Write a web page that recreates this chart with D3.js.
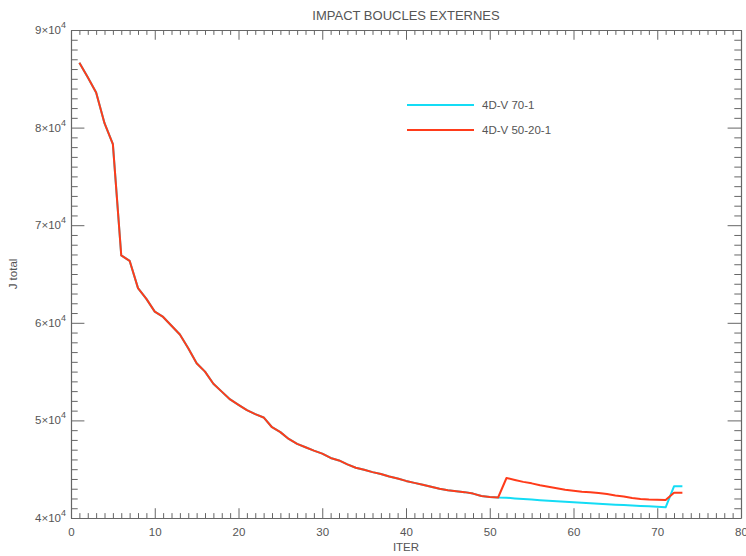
<!DOCTYPE html>
<html>
<head>
<meta charset="utf-8">
<script src="https://cdn.jsdelivr.net/npm/d3@7/dist/d3.min.js"></script>
<style>
  html, body { margin: 0; padding: 0; background: #fff; }
  svg { display: block; }
  text { font-family: "Liberation Sans", "DejaVu Sans", sans-serif; fill: #555; }
</style>
</head>
<body>
<div id="chart"></div>
<script>
// Cost function J total versus outer-loop iteration
const iterRed = d3.range(1, 74);
const jRed = [
  86650, 85150, 83600, 80450, 78300, 66900, 66350, 63550, 62450, 61150,
  60600, 59700, 58800, 57400, 55850, 55000, 53750, 52950, 52150, 51600,
  51050, 50650, 50300, 49300, 48800, 48100, 47600, 47250, 46900, 46600,
  46150, 45900, 45500, 45150, 44950, 44700, 44500, 44250, 44050, 43800,
  43600, 43400, 43200, 43000, 42850, 42750, 42650, 42500, 42250, 42150,
  42100, 44100, 43900, 43700, 43550, 43350, 43200, 43050, 42900, 42800,
  42700, 42650, 42550, 42450, 42300, 42200, 42050, 41950, 41900, 41880,
  41840, 42580, 42580
];
// 70-1 run shares the first 51 iterations, then continues on its own
const iterCyan = d3.range(1, 74);
const jCyanTail = [
  42080, 42010, 41950, 41890, 41830, 41770, 41720, 41660, 41610, 41560,
  41510, 41460, 41420, 41370, 41330, 41280, 41240, 41200, 41160, 41100,
  43250, 43250
];
const jCyan = jRed.slice(0, 51).concat(jCyanTail);

const xMajor = [0, 10, 20, 30, 40, 50, 60, 70, 80];
const yMajor = [40000, 50000, 60000, 70000, 80000, 90000];
const yMantissa = ["4", "5", "6", "7", "8", "9"];

const seriesNames = ["4D-V 70-1", "4D-V 50-20-1"];
const seriesColors = ["#14dcf5", "#ff3b1a"];

const W = 746, H = 556;
const m = { left: 71, right: 5, top: 30, bottom: 38 };
const pw = W - m.left - m.right, ph = H - m.top - m.bottom;

const svg = d3.select("#chart").append("svg").attr("width", W).attr("height", H);
const g = svg.append("g").attr("transform", `translate(${m.left},${m.top})`);

const x = d3.scaleLinear().domain([0, 80]).range([0, pw]);
const y = d3.scaleLinear().domain([40000, 90000]).range([ph, 0]);

const axisColor = "#666";
const xMinor = d3.range(0, 81, 1).filter(v => v % 10 !== 0);
const yMinor = d3.range(40000, 90001, 1000).filter(v => v % 10000 !== 0);
const tx = 0.02 * ph, ty = 0.02 * pw;

function styleAxis(sel) {
  sel.select(".domain").attr("stroke", axisColor).attr("stroke-width", 1.2);
  sel.selectAll(".tick line").attr("stroke", axisColor).attr("stroke-width", 1);
}

// bottom axis with labels
const bx = g.append("g").attr("transform", `translate(0,${ph})`)
  .call(d3.axisBottom(x).tickValues(xMajor).tickSizeInner(-tx).tickSizeOuter(0).tickPadding(10).tickFormat(d3.format("d")));
styleAxis(bx);
bx.selectAll(".tick text").attr("font-size", 11.5).style("fill", "#555");
g.append("g").attr("transform", `translate(0,${ph})`)
  .call(d3.axisBottom(x).tickValues(xMinor).tickSizeInner(-tx / 2).tickSizeOuter(0).tickFormat(""))
  .call(styleAxis).select(".domain").remove();

// top axis, ticks only
const tp = g.append("g")
  .call(d3.axisTop(x).tickValues(xMajor).tickSizeInner(-tx).tickSizeOuter(0).tickFormat(""));
styleAxis(tp);
g.append("g")
  .call(d3.axisTop(x).tickValues(xMinor).tickSizeInner(-tx / 2).tickSizeOuter(0).tickFormat(""))
  .call(styleAxis).select(".domain").remove();

// left axis with scientific labels
const ly = g.append("g")
  .call(d3.axisLeft(y).tickValues(yMajor).tickSizeInner(-ty).tickSizeOuter(0).tickFormat(""));
styleAxis(ly);
g.append("g")
  .call(d3.axisLeft(y).tickValues(yMinor).tickSizeInner(-ty / 2).tickSizeOuter(0).tickFormat(""))
  .call(styleAxis).select(".domain").remove();

const yl = g.append("g").selectAll("text").data(yMajor).join("text")
  .attr("x", -5).attr("y", d => y(d) + 4)
  .attr("text-anchor", "end").attr("font-size", 11.5);
yl.append("tspan").text((d, i) => yMantissa[i] + "×10");
yl.append("tspan").attr("dy", -6).attr("font-size", 9).text("4");

// right axis, ticks only
const ry = g.append("g").attr("transform", `translate(${pw},0)`)
  .call(d3.axisRight(y).tickValues(yMajor).tickSizeInner(-ty).tickSizeOuter(0).tickFormat(""));
styleAxis(ry);
g.append("g").attr("transform", `translate(${pw},0)`)
  .call(d3.axisRight(y).tickValues(yMinor).tickSizeInner(-ty / 2).tickSizeOuter(0).tickFormat(""))
  .call(styleAxis).select(".domain").remove();

// curves
const line = d3.line().x(d => x(d[0])).y(d => y(d[1]));
g.append("path").datum(iterCyan.map((v, i) => [v, jCyan[i]]))
  .attr("fill", "none").attr("stroke", seriesColors[0]).attr("stroke-width", 2)
  .attr("stroke-linejoin", "round").attr("d", line);
g.append("path").datum(iterRed.map((v, i) => [v, jRed[i]]))
  .attr("fill", "none").attr("stroke", seriesColors[1]).attr("stroke-width", 2)
  .attr("stroke-linejoin", "round").attr("d", line);

// legend
const legendY = [105, 130];
seriesNames.forEach((name, i) => {
  svg.append("line").attr("x1", 407).attr("x2", 474).attr("y1", legendY[i]).attr("y2", legendY[i])
    .attr("stroke", seriesColors[i]).attr("stroke-width", 2);
  svg.append("text").attr("x", 482).attr("y", legendY[i] + 4).attr("font-size", 11.5).text(name);
});

// titles
svg.append("text").attr("x", m.left + pw / 2).attr("y", 20).attr("text-anchor", "middle")
  .attr("font-size", 13).text("IMPACT BOUCLES EXTERNES");
svg.append("text").attr("x", m.left + pw / 2).attr("y", 551).attr("text-anchor", "middle")
  .attr("font-size", 11.5).text("ITER");
svg.append("text").attr("transform", `translate(17,${m.top + ph / 2}) rotate(-90)`)
  .attr("text-anchor", "middle").attr("font-size", 11.5).text("J total");
</script>
</body>
</html>
